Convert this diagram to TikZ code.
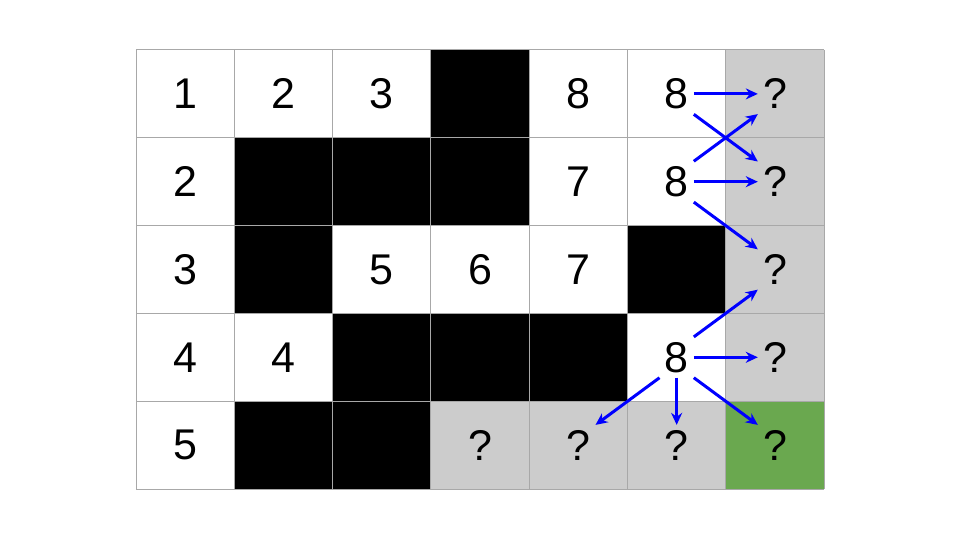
\documentclass[tikz,border=0pt]{standalone}
\usepackage{fontspec}
\setmainfont{Liberation Sans}
\usetikzlibrary{arrows.meta}

\definecolor{cellgray}{HTML}{CCCCCC}
\definecolor{cellgreen}{HTML}{6AA84F}
\definecolor{linegray}{HTML}{A8A8A8}

\tikzset{
  num/.style={font=\fontsize{43}{43}\selectfont, inner sep=5pt},
  arr/.style={-{Stealth[length=12pt,width=11pt]}, draw={rgb,255:red,0;green,0;blue,255}, line width=3pt},
  gridline/.style={draw=linegray, line width=1pt}
}

\begin{document}
\begin{tikzpicture}[x=1pt,y=-1pt]
\useasboundingbox (0,0) rectangle (960,540);
\fill[white] (0,0) rectangle (960,540);

% filled cells
\foreach \r/\c in {0/3,1/1,1/2,1/3,2/1,2/5,3/2,3/3,3/4,4/1,4/2}
  \fill[black] (136+\c*98.3,50+\r*87.8) rectangle ++(98.3,87.8);
\foreach \r/\c in {0/6,1/6,2/6,3/6,4/3,4/4,4/5}
  \fill[cellgray] (136+\c*98.3,50+\r*87.8) rectangle ++(98.3,87.8);
\fill[cellgreen] (136+6*98.3,50+4*87.8) rectangle ++(98.3,87.8);

% grid
\foreach \c in {0,...,7}
  \draw[gridline] (136+\c*98.3,50)--(136+\c*98.3,489);
\foreach \r in {0,...,5}
  \draw[gridline] (136,50+\r*87.8)--(824,50+\r*87.8);

% numbers
\foreach \r/\c/\t in {0/0/1,0/1/2,0/2/3,0/4/8,0/5/8,0/6/?,
    1/0/2,1/4/7,1/5/8,1/6/?,
    2/0/3,2/2/5,2/3/6,2/4/7,2/6/?,
    3/0/4,3/1/4,3/5/8,3/6/?,
    4/0/5,4/3/?,4/4/?,4/5/?,4/6/?}
  \node[num] (n\r\c) at (136+\c*98.3+49.15,50+\r*87.8+43.9) {\t};

% moves
\draw[arr] (n05.east)--(n06.west);
\draw[arr] (n05.south east)--(n16.north west);
\draw[arr] (n15.north east)--(n06.south west);
\draw[arr] (n15.east)--(n16.west);
\draw[arr] (n15.south east)--(n26.north west);
\draw[arr] (n35.north east)--(n26.south west);
\draw[arr] (n35.east)--(n36.west);
\draw[arr] (n35.south east)--(n46.north west);
\draw[arr] (n35.south)--(n45.north);
\draw[arr] (n35.south west)--(n44.north east);

\end{tikzpicture}
\end{document}
